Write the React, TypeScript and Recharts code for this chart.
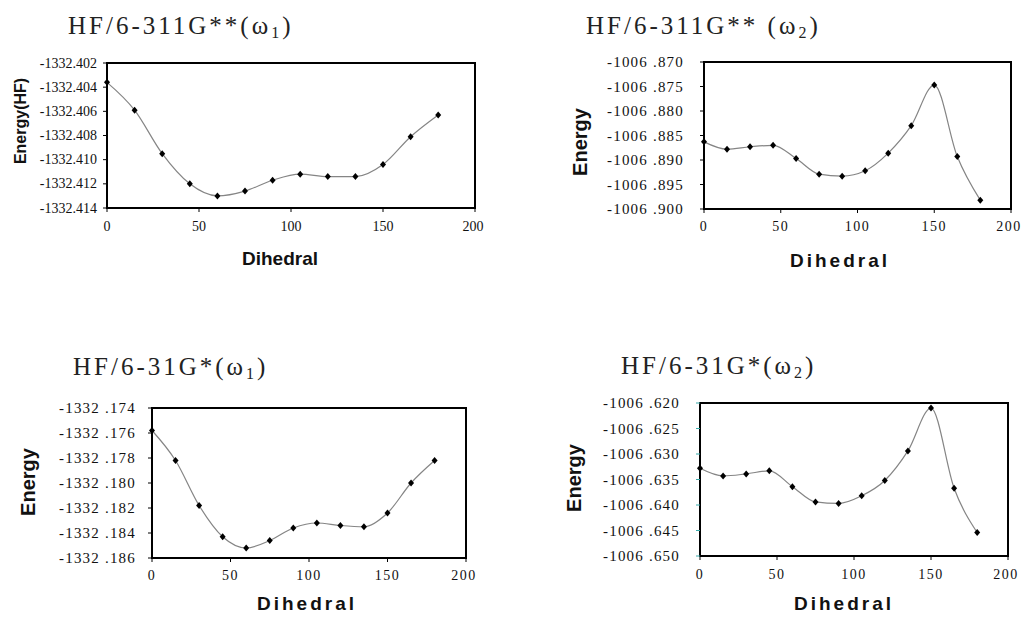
import { Line, LineChart, ReferenceArea, XAxis, YAxis } from "recharts";

// dihedral angles (deg)
const angles = [0, 15, 30, 45, 60, 75, 90, 105, 120, 135, 150, 165, 180];
const xTicks = [0, 50, 100, 150, 200];

// energies
const hf311Omega1 = [
  -1332.4036, -1332.4059, -1332.4095, -1332.412, -1332.413, -1332.4126, -1332.4117,
  -1332.4112, -1332.4114, -1332.4114, -1332.4104, -1332.4081, -1332.4063,
];
const hf311Omega2 = [
  -1006.8863, -1006.8878, -1006.8873, -1006.887, -1006.8897, -1006.8929, -1006.8933,
  -1006.8922, -1006.8886, -1006.883, -1006.8747, -1006.8893, -1006.8982,
];
const hf31Omega1 = [
  -1332.1758, -1332.1782, -1332.1818, -1332.1843, -1332.1852, -1332.1846, -1332.1836,
  -1332.1832, -1332.1834, -1332.1835, -1332.1824, -1332.18, -1332.1782,
];
const hf31Omega2 = [
  -1006.6328, -1006.6343, -1006.6339, -1006.6333, -1006.6364, -1006.6394, -1006.6397,
  -1006.6382, -1006.6352, -1006.6294, -1006.621, -1006.6367, -1006.6454,
];

const yTicks311w1 = [-1332.414, -1332.412, -1332.41, -1332.408, -1332.406, -1332.404, -1332.402];
const yTicks311w2 = [-1006.9, -1006.895, -1006.89, -1006.885, -1006.88, -1006.875, -1006.87];
const yTicks31w1 = [-1332.186, -1332.184, -1332.182, -1332.18, -1332.178, -1332.176, -1332.174];
const yTicks31w2 = [-1006.65, -1006.645, -1006.64, -1006.635, -1006.63, -1006.625, -1006.62];

type Box = { l: number; t: number; r: number; b: number };

type PanelProps = {
  box: Box;
  values: number[];
  yTicks: number[];
  spaced?: boolean;
  yGap: number;
  xGap: number;
  tickColor?: string;
};

const serif = "Liberation Serif";
const sans = "Liberation Sans";

function Diamond(props: any) {
  const { cx, cy, index } = props;
  if (cx == null || cy == null) return null;
  return (
    <path
      key={`d-${index}`}
      d={`M${cx},${cy - 3.5}L${cx + 3},${cy}L${cx},${cy + 3.5}L${cx - 3},${cy}Z`}
      fill="#000"
    />
  );
}

function Panel({ box, values, yTicks, spaced, yGap, xGap, tickColor = "#000" }: PanelProps) {
  const data = angles.map((a, i) => ({ angle: a, energy: values[i] }));
  const yMin = yTicks[0];
  const yMax = yTicks[yTicks.length - 1];
  const fmt = (v: number) => (spaced ? v.toFixed(3).replace(".", " .") : v.toFixed(3));
  const width = box.r - box.l + 110;
  const height = box.b - box.t + 40;

  const yTick = (p: any) => (
    <text
      x={p.x}
      y={p.y}
      textAnchor="end"
      dominantBaseline="central"
      fontFamily={serif}
      fontSize={spaced ? 15 : 14}
      letterSpacing={spaced ? 1.2 : 0}
      fill="#111"
    >
      {fmt(p.payload.value)}
    </text>
  );
  const xTick = (p: any) => (
    <text
      x={p.x}
      y={p.y}
      dy="0.71em"
      textAnchor="middle"
      fontFamily={serif}
      fontSize={14}
      letterSpacing={spaced ? 1.5 : 0}
      fill="#111"
    >
      {p.payload.value}
    </text>
  );

  return (
    <div style={{ position: "absolute", left: box.l - 100, top: box.t - 10 }}>
      <LineChart width={width} height={height} data={data} margin={{ top: 10, right: 10, left: 0, bottom: 0 }}>
        <XAxis
          type="number"
          dataKey="angle"
          domain={[0, 200]}
          ticks={xTicks}
          height={30}
          tickSize={4}
          tickMargin={xGap}
          axisLine={{ stroke: "#000", strokeWidth: 2 }}
          tickLine={{ stroke: "#000" }}
          tick={xTick}
        />
        <YAxis
          type="number"
          domain={[yMin, yMax]}
          ticks={yTicks}
          allowDataOverflow
          width={100}
          tickSize={4}
          tickMargin={yGap}
          axisLine={{ stroke: "#000", strokeWidth: 2 }}
          tickLine={{ stroke: tickColor }}
          tick={yTick}
        />
        <ReferenceArea x1={0} x2={200} y1={yMin} y2={yMax} fill="none" stroke="#000" strokeWidth={2} />
        <Line
          type="monotone"
          dataKey="energy"
          stroke="#858585"
          strokeWidth={1.2}
          dot={Diamond}
          activeDot={false}
          isAnimationActive={false}
        />
      </LineChart>
    </div>
  );
}

function Labels() {
  const title = { fontFamily: serif, fontSize: 25, letterSpacing: 3, fill: "#222" };
  const axis = { fontFamily: sans, fontWeight: 700, fill: "#111" };
  const sub = (s: string) => (
    <tspan fontSize={16} dy={4}>
      {s}
    </tspan>
  );
  return (
    <svg width={1026} height={617} style={{ position: "absolute", left: 0, top: 0 }}>
      <text x={68} y={34} {...title}>
        HF/6-311G**(ω{sub("1")}
        <tspan dy={-4}>)</tspan>
      </text>
      <text x={586} y={34} {...title}>
        HF/6-311G** (ω{sub("2")}
        <tspan dy={-4}>)</tspan>
      </text>
      <text x={73} y={375} {...title}>
        HF/6-31G*(ω{sub("1")}
        <tspan dy={-4}>)</tspan>
      </text>
      <text x={621} y={374} {...title}>
        HF/6-31G*(ω{sub("2")}
        <tspan dy={-4}>)</tspan>
      </text>

      <text x={280} y={265} textAnchor="middle" fontSize={19} {...axis}>
        Dihedral
      </text>
      <text x={840} y={267} textAnchor="middle" fontSize={19} letterSpacing={3} {...axis}>
        Dihedral
      </text>
      <text x={307} y={610} textAnchor="middle" fontSize={19} letterSpacing={3} {...axis}>
        Dihedral
      </text>
      <text x={844} y={610} textAnchor="middle" fontSize={19} letterSpacing={3} {...axis}>
        Dihedral
      </text>

      <text
        x={20}
        y={121}
        textAnchor="middle"
        dominantBaseline="central"
        fontSize={16}
        transform="rotate(-90 20 121)"
        {...axis}
      >
        Energy(HF)
      </text>
      <text
        x={580}
        y={142}
        textAnchor="middle"
        dominantBaseline="central"
        fontSize={20}
        transform="rotate(-90 580 142)"
        {...axis}
      >
        Energy
      </text>
      <text
        x={28}
        y={482}
        textAnchor="middle"
        dominantBaseline="central"
        fontSize={20}
        transform="rotate(-90 28 482)"
        {...axis}
      >
        Energy
      </text>
      <text
        x={574}
        y={478}
        textAnchor="middle"
        dominantBaseline="central"
        fontSize={20}
        transform="rotate(-90 574 478)"
        {...axis}
      >
        Energy
      </text>
    </svg>
  );
}

export default function App() {
  return (
    <div style={{ position: "absolute", left: 0, top: 0, width: 1026, height: 617, background: "#fff" }}>
      <Labels />
      <Panel box={{ l: 107, t: 63, r: 475, b: 208 }} values={hf311Omega1} yTicks={yTicks311w1} yGap={6} xGap={9} />
      <Panel box={{ l: 704, t: 62, r: 1011, b: 209 }} values={hf311Omega2} yTicks={yTicks311w2} spaced yGap={16} xGap={8} />
      <Panel box={{ l: 152, t: 408, r: 466, b: 558 }} values={hf31Omega1} yTicks={yTicks31w1} spaced yGap={12} xGap={8} />
      <Panel
        box={{ l: 700, t: 403, r: 1008, b: 556 }}
        values={hf31Omega2}
        yTicks={yTicks31w2}
        spaced
        yGap={16}
        xGap={9}
        tickColor="#3aa9a9"
      />
    </div>
  );
}
